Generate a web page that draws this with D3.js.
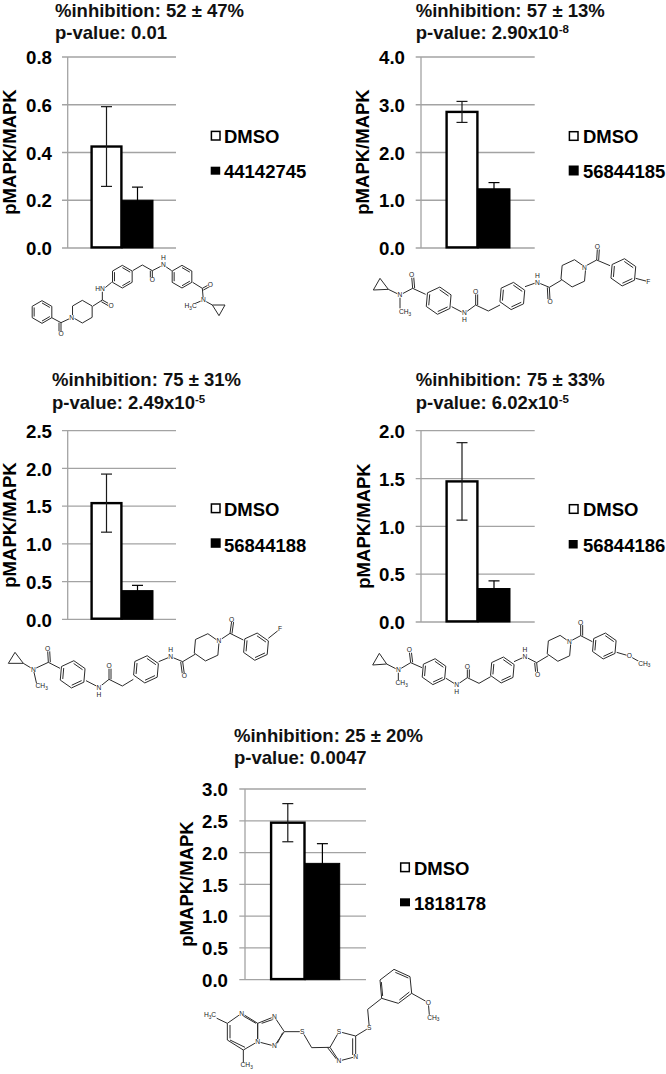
<!DOCTYPE html>
<html><head><meta charset="utf-8">
<script src="https://cdn.jsdelivr.net/npm/d3@7"></script>
<style>html,body{margin:0;padding:0;background:#fff}svg{display:block}text{font-family:"Liberation Sans",Arial,sans-serif}</style>
</head><body><svg id="c" width="666" height="1074"></svg>
<script>
// ---- data ----
const compounds = ["44142745","56844185","56844188","56844186","1818178"];
const inhibition = ["52 ± 47%","57 ± 13%","75 ± 31%","75 ± 33%","25 ± 20%"];
const pValues = [["0.01",null],["2.90x10","-8"],["2.49x10","-5"],["6.02x10","-5"],["0.0047",null]];
const dmsoMeans = [0.425,2.85,1.54,1.47,2.47];
const dmsoErrors = [0.167,0.22,0.385,0.405,0.30];
const compoundMeans = [0.20,1.24,0.38,0.35,1.83];
const compoundErrors = [0.055,0.13,0.07,0.08,0.31];
const yMax = [0.8,4,2.5,2,3];
const yStep = [0.2,1,0.5,0.5,0.5];
const yLabel = "pMAPK/MAPK";

// ---- layout ----
const layout = [
 {axis:67.7,g0:62,g1:176,top:57,bottom:248,b0:91,b1:153,tx:55,t1:16.8,t2:38.5,lx:210.7,ltx:224,l1:[130.7,10,142.7],l2:[166.7,8,178.3],blw:9.5,yx:16,yc:152,tr:52},
 {axis:421,g0:415.7,g1:534.7,top:57,bottom:248,b0:446,b1:510,tx:415.7,t1:16.8,t2:38.5,lx:568.7,ltx:583,l1:[131,10,143],l2:[165.5,10,178.3],blw:10,yx:369,yc:152,tr:405},
 {axis:67.7,g0:62,g1:176,top:430.7,bottom:619.3,b0:91,b1:153,tx:52,t1:386,t2:409,lx:210.7,ltx:224,l1:[503.3,10,516],l2:[538.3,9.5,551.7],blw:10,yx:16,yc:525,tr:52},
 {axis:421,g0:415.7,g1:534.7,top:430.7,bottom:622,b0:446,b1:510,tx:415.7,t1:386,t2:409,lx:568.7,ltx:583,l1:[504,10,516],l2:[540,8.5,551.7],blw:9,yx:370,yc:526,tr:405},
 {axis:245,g0:239.3,g1:366,top:789,bottom:979.7,b0:270.5,b1:339.7,tx:234,t1:742,t2:764,lx:400,ltx:414,l1:[862.3,10,875],l2:[898.3,8,910],blw:10,yx:193,yc:884,tr:228}
];

const svg = d3.select("#c");
const GRID="#a3a3a3", INK="#000";
const FS=18.5;

compounds.forEach((id,i)=>{
  const L=layout[i], g=svg.append("g");
  const y=d3.scaleLinear().domain([0,yMax[i]]).range([L.bottom,L.top]);
  const x=d3.scaleBand().domain(["DMSO",id]).range([L.b0,L.b1]).paddingInner(0);
  const ticks=d3.range(0,yMax[i]+yStep[i]/2,yStep[i]);

  g.selectAll("line.grid").data(ticks).join("line").attr("class","grid")
    .attr("x1",L.g0).attr("x2",L.g1).attr("y1",d=>y(d)).attr("y2",d=>y(d))
    .attr("stroke",GRID).attr("stroke-width",1.3);
  g.append("line").attr("x1",L.axis).attr("x2",L.axis).attr("y1",L.top).attr("y2",L.bottom)
    .attr("stroke",GRID).attr("stroke-width",1.3);

  const ax=d3.axisLeft(y).tickValues(ticks).tickSize(0).tickPadding(0).tickFormat(d3.format(".1f"));
  const ag=g.append("g").attr("transform",`translate(${L.tr},0)`).call(ax);
  ag.select(".domain").remove();
  ag.selectAll("text").attr("font-size",18.7).attr("font-weight","bold").attr("fill",INK)
    .attr("font-family",'"Liberation Sans",Arial,sans-serif').attr("dy","0.36em");

  // bars
  const means=[dmsoMeans[i],compoundMeans[i]], errs=[dmsoErrors[i],compoundErrors[i]];
  const keys=x.domain();
  means.forEach((m,j)=>{
    const k=keys[j];
    g.append("rect").attr("x",x(k)+(j?0:0.6)).attr("width",x.bandwidth()-(j?0:1.2))
      .attr("y",y(m)).attr("height",y(0)-y(m)-(j?0:0.6))
      .attr("fill",j?"#000":"#fff").attr("stroke","#000").attr("stroke-width",j?1:2.4);
  });
  means.forEach((m,j)=>{
    const cx=x(keys[j])+x.bandwidth()/2, hi=y(m+errs[j]), lo=y(m-errs[j]);
    const eb=g.append("g").attr("stroke",j?"#000":"#1a1a1a").attr("stroke-width",1.2).attr("fill","none");
    eb.append("line").attr("x1",cx).attr("x2",cx).attr("y1",hi).attr("y2",lo);
    eb.append("line").attr("x1",cx-5.5).attr("x2",cx+5.5).attr("y1",hi).attr("y2",hi);
    eb.append("line").attr("x1",cx-5.5).attr("x2",cx+5.5).attr("y1",lo).attr("y2",lo);
  });

  // y title
  g.append("text").attr("transform",`translate(${L.yx},${L.yc}) rotate(-90)`).attr("text-anchor","middle")
    .attr("font-size",FS).attr("font-weight","bold").text(yLabel);

  // heading
  g.append("text").attr("x",L.tx).attr("y",L.t1).attr("font-size",FS).attr("font-weight","bold").attr("fill","#111")
    .text("%inhibition: "+inhibition[i]);
  const t2=g.append("text").attr("x",L.tx).attr("y",L.t2).attr("font-size",FS).attr("font-weight","bold").attr("fill","#111");
  t2.append("tspan").text("p-value: "+pValues[i][0]);
  if(pValues[i][1]) t2.append("tspan").attr("dy",-6).attr("font-size",11.5).text(pValues[i][1]);

  // legend
  g.append("rect").attr("x",L.lx+0.7).attr("y",L.l1[0]+0.7).attr("width",8.6).attr("height",L.l1[1]-1.4)
    .attr("fill","#fff").attr("stroke","#000").attr("stroke-width",1.5);
  g.append("rect").attr("x",L.lx).attr("y",L.l2[0]).attr("width",L.blw).attr("height",L.l2[1]).attr("fill","#000");
  [["DMSO",L.l1[2]],[id,L.l2[2]]].forEach(([s,b])=>{
    g.append("text").attr("x",L.ltx).attr("y",b).attr("font-size",FS).attr("font-weight","bold").text(s);
  });
});

// ---- chemical structures, decoration traced in 3x crop units ----
const ang=d=>d*Math.PI/180;
const hexPts=(cx,cy,r,rot)=>d3.range(6).map(k=>[cx+r*Math.cos(ang(k*60-90+rot)),cy+r*Math.sin(ang(k*60-90+rot))]);
const molecules=[
 {o:[25,250],r:34,rings:[[51,186,0,1],[172,185,0,0],[292,80,0,1],[471,80,0,1]],
  lines:[[[80,203],[108,218],[140,203]],[[204,168],[232,150],[232,120]],[[232,120],[260,97]],[[323,62],[352,45],[382,62],[415,45],[440,62]],[[503,97],[532,115],[535,150]],[[535,150],[500,165]],[[535,150],[562,165]],[[562,165],[600,165],[582,197],[562,165]]],
  dbl:[[[108,218],[108,245]],[[232,150],[255,163]],[[382,62],[382,85]],[[532,115],[552,104]]],
  labels:[["O",108,252],["N",140,203],["O",258,166],["HN",225,117],["O",382,90],["N",415,45],["H",415,24],["O",556,103],["N",535,150],["H3C",497,168]]},
 {o:[365,245],r:41,rings:[[221,167,5,1],[442,153,5,1],[625,85,5,0],[775,82,5,1]],
  lines:[[[45,100],[25,135],[70,133],[45,100]],[[70,133],[105,150],[143,130],[182,148]],[[105,150],[105,190]],[[260,185],[298,205],[332,180],[370,198],[405,180]],[[480,125],[517,112],[553,127],[590,105]],[[658,65],[695,45],[735,62]],[[812,100],[850,110]]],
  dbl:[[[143,130],[140,95]],[[332,180],[332,145]],[[553,127],[555,165]],[[695,45],[697,12]]],
  labels:[["O",140,90],["N",105,150],["CH3",120,201],["N",298,203],["H",298,224],["O",332,140],["N",517,112],["H",517,91],["O",555,170],["N",658,68],["O",697,5],["F",850,110]]},
 {o:[0,610],r:41,rings:[[218,193,5,1],[438,178,5,1],[620,112,5,0],[768,110,5,1]],
  lines:[[[45,127],[25,160],[70,160],[45,127]],[[70,160],[100,178],[145,157],[180,175]],[[100,178],[110,222]],[[258,212],[297,232],[327,208],[367,228],[400,208]],[[476,155],[512,140],[548,155],[585,133]],[[657,92],[690,70],[730,90]],[[805,85],[840,57]]],
  dbl:[[[145,157],[143,122]],[[327,208],[327,174]],[[548,155],[553,192]],[[690,70],[695,34]]],
  labels:[["O",143,116],["N",100,178],["CH3",125,228],["N",297,232],["H",297,253],["O",327,168],["N",512,140],["H",512,119],["O",553,197],["N",657,92],["O",695,28],["F",840,57]]},
 {o:[360,615],r:39,rings:[[222,170,5,1],[427,165,5,1],[597,100,5,0],[733,93,5,1]],
  lines:[[[58,115],[38,150],[80,147],[58,115]],[[80,147],[115,165],[152,143],[186,158]],[[115,165],[115,195]],[[258,190],[290,210],[322,188],[357,205],[392,185]],[[462,140],[495,125],[530,143],[565,122]],[[628,80],[662,62],[697,80]],[[770,112],[808,123],[838,140]]],
  dbl:[[[152,143],[148,110]],[[322,188],[322,160]],[[530,143],[533,173]],[[662,62],[662,28]]],
  labels:[["O",148,105],["N",115,165],["CH3",125,203],["N",290,210],["H",290,231],["O",322,155],["N",495,125],["H",495,104],["O",533,178],["N",628,80],["O",662,22],["O",808,123],["CH3",853,145]]},
 {o:[190,960],r:0,rings:[],
  polys:[[[112,190],[155,160],[203,190],[203,245],[160,270],[112,240]],[[203,190],[253,170],[283,215],[253,258],[203,245]],[[420,262],[447,215],[497,228],[497,290],[447,303]],[[575,115],[570,60],[612,28],[660,50],[665,100],[625,130]]],
  lines:[[[60,165],[112,190]],[[283,215],[337,215],[365,263],[420,262]],[[497,228],[538,203],[533,148],[575,115]],[[665,100],[715,128],[718,165]],[[160,270],[160,310]]],
  dbl:[[[120,240],[165,262]],[[120,195],[120,235]],[[160,168],[198,190]],[[215,190],[250,178]],[[262,250],[278,218]],[[488,235],[488,285]],[[412,262],[440,298]],[[578,108],[574,66]],[[616,37],[655,54]],[[658,96],[628,120]]],
  labels:[["H3C",60,165],["N",155,160],["N",253,170],["N",203,245],["N",253,258],["S",337,215],["S",447,215],["N",497,290],["N",447,303],["S",538,203],["O",715,128],["CH3",730,172],["CH3",170,315]]}
];
const line=d3.line();
const STROKE="#2b2b2b";
molecules.forEach(m=>{
  const g=svg.append("g").attr("transform",`translate(${m.o[0]},${m.o[1]}) scale(${1/3})`)
    .attr("fill","none").attr("stroke",STROKE).attr("stroke-width",3);
  (m.rings||[]).forEach(([cx,cy,rot,arom])=>{
    const p=hexPts(cx,cy,m.r,rot);
    g.append("path").attr("d",line(p)+"Z");
    if(arom){
      const q=hexPts(cx,cy,m.r*0.8,rot);
      [[0,1],[2,3],[4,5]].forEach(([a,b])=>g.append("path").attr("d",line([q[a],q[b]])));
    }
  });
  (m.polys||[]).forEach(p=>g.append("path").attr("d",line(p)+"Z"));
  m.lines.forEach(p=>g.append("path").attr("d",line(p)));
  (m.dbl||[]).forEach(p=>{
    g.append("path").attr("d",line(p));
    if(m.rings.length){
      const dx=p[1][0]-p[0][0],dy=p[1][1]-p[0][1],n=Math.hypot(dx,dy),ox=-dy/n*6,oy=dx/n*6;
      g.append("path").attr("d",line(p.map(([a,b])=>[a+ox,b+oy])));
    }
  });
  m.labels.forEach(([s,x,y])=>{
    const t=g.append("text").attr("x",x).attr("y",y).attr("dy","0.36em").attr("text-anchor","middle")
      .attr("font-size",20).attr("fill","#222").attr("stroke","none");
    const h=g.insert("rect",()=>t.node()).attr("fill","#fff").attr("stroke","none");
    s.split(/(\d)/).filter(Boolean).forEach((part,ix,arr)=>{
      if(/\d/.test(part)){ t.append("tspan").attr("dy",5).attr("font-size",14).text(part); }
      else { const sp=t.append("tspan").text(part); if(ix>0&&/\d/.test(arr[ix-1])) sp.attr("dy",-5); }
    });
    const bb=t.node().getBBox();
    h.attr("x",bb.x-1).attr("y",bb.y+3).attr("width",bb.width+2).attr("height",bb.height-5);
  });
});
</script></body></html>
